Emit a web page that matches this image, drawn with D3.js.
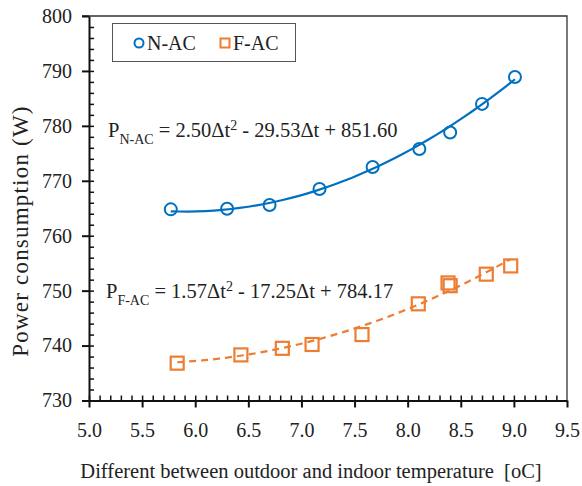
<!DOCTYPE html>
<html>
<head>
<meta charset="utf-8">
<script src="https://cdn.jsdelivr.net/npm/d3@7"></script>
<style>
  body { margin: 0; background: #fff; }
  svg text { font-family: "Liberation Serif", "Times New Roman", serif !important; fill: #222; }
</style>
</head>
<body>
<div id="chart"></div>
<script>
// data
var nacX = [5.77, 6.30, 6.70, 7.17, 7.67, 8.11, 8.40, 8.70, 9.01];
var nacY = [764.8, 764.9, 765.6, 768.5, 772.5, 775.8, 778.8, 784.0, 788.9];
var facX = [5.83, 6.43, 6.82, 7.10, 7.57, 8.10, 8.38, 8.40, 8.74, 8.97];
var facY = [736.8, 738.3, 739.5, 740.2, 742.0, 747.6, 751.4, 750.9, 753.0, 754.5];
// trendline coefficients (a, b, c) from the equations shown
var nacFit = [2.50, -29.53, 851.60];
var facFit = [1.57, -17.25, 784.17];
var xTicks = [5.0, 5.5, 6.0, 6.5, 7.0, 7.5, 8.0, 8.5, 9.0, 9.5];
var yTicks = [730, 740, 750, 760, 770, 780, 790, 800];

(function drawChart() {
    var w = 582, h = 486;
    var padLeft = 89, padRight = 567, padTop = 16, padBottom = 400.5;
    var blue = "#0070C0", orange = "#ED7D31";
    var serif = "'Liberation Serif', 'Times New Roman', serif";

    var svg = d3.select("#chart").append("svg")
        .attr("width", w)
        .attr("height", h)
        .style("font-family", serif);

    var x = d3.scaleLinear().domain([5.0, 9.5]).range([padLeft, padRight]);
    var y = d3.scaleLinear().domain([730, 800]).range([padBottom, padTop]);

    // frame (top / right)
    svg.append("path")
        .attr("d", `M${padLeft - 7},${padTop}H${padRight}V${padBottom}`)
        .attr("fill", "none")
        .attr("stroke", "#333")
        .attr("stroke-width", 1.3);

    // minor ticks inside
    var xMinor = d3.range(50, 95).map(d => d / 10);
    var yMinor = d3.range(730, 800, 2);
    svg.append("g")
        .attr("transform", `translate(0,${padBottom})`)
        .call(d3.axisTop(x).tickValues(xMinor).tickSize(5).tickFormat(""))
        .call(g => g.select(".domain").remove())
        .selectAll("line").attr("stroke", "#111").attr("stroke-width", 1.5);
    svg.append("g")
        .attr("transform", `translate(${padLeft},0)`)
        .call(d3.axisRight(y).tickValues(yMinor).tickSize(5).tickFormat(""))
        .call(g => g.select(".domain").remove())
        .selectAll("line").attr("stroke", "#111").attr("stroke-width", 1.5);

    // main axes
    var xAxis = svg.append("g")
        .attr("transform", `translate(0,${padBottom})`)
        .call(d3.axisBottom(x).tickValues(xTicks).tickSize(7).tickSizeOuter(0).tickPadding(15)
            .tickFormat(d3.format(".1f")));
    var yAxis = svg.append("g")
        .attr("transform", `translate(${padLeft},0)`)
        .call(d3.axisLeft(y).tickValues(yTicks).tickSize(7).tickSizeOuter(0).tickPadding(10));
    [xAxis, yAxis].forEach(function(g) {
        g.attr("font-family", null);
        g.select(".domain").attr("stroke", "#111").attr("stroke-width", 2);
        g.selectAll(".tick line").attr("stroke", "#111").attr("stroke-width", 2);
        g.selectAll(".tick text")
            .style("font-family", serif)
            .attr("font-size", "20px")
            .attr("fill", "#222");
    });

    // trendlines
    function fitPoints(coef, x0, x1) {
        return d3.range(0, 41).map(function(i) {
            var t = x0 + (x1 - x0) * i / 40;
            return [t, coef[0] * t * t + coef[1] * t + coef[2]];
        });
    }
    var line = d3.line().x(d => x(d[0])).y(d => y(d[1]));

    svg.append("path")
        .datum(fitPoints(nacFit, d3.min(nacX), d3.max(nacX)))
        .attr("d", line)
        .attr("fill", "none")
        .attr("stroke", blue)
        .attr("stroke-width", 2.2);

    svg.append("path")
        .datum(fitPoints(facFit, d3.min(facX), d3.max(facX)))
        .attr("d", line)
        .attr("fill", "none")
        .attr("stroke", orange)
        .attr("stroke-width", 2.2)
        .attr("stroke-dasharray", "7,5");

    // markers
    svg.selectAll("circle.nac")
        .data(nacX.map((d, i) => [d, nacY[i]]))
        .enter()
        .append("circle")
        .attr("class", "nac")
        .attr("cx", d => x(d[0]))
        .attr("cy", d => y(d[1]))
        .attr("r", 6)
        .attr("fill", "none")
        .attr("stroke", blue)
        .attr("stroke-width", 2);

    svg.selectAll("rect.fac")
        .data(facX.map((d, i) => [d, facY[i]]))
        .enter()
        .append("rect")
        .attr("class", "fac")
        .attr("x", d => x(d[0]) - 6.5)
        .attr("y", d => y(d[1]) - 6.5)
        .attr("width", 13)
        .attr("height", 13)
        .attr("fill", "none")
        .attr("stroke", orange)
        .attr("stroke-width", 2.2);

    // equations
    function equation(px, py, sub, a, rest) {
        var t = svg.append("text")
            .attr("x", px)
            .attr("y", py)
            .attr("font-size", "20.5px");
        t.append("tspan").text("P");
        t.append("tspan").attr("font-size", "14px").attr("dy", 7).text(sub);
        t.append("tspan").attr("dy", -7).text(" = " + a + "\u0394t");
        t.append("tspan").attr("font-size", "14px").attr("dy", -7).text("2");
        t.append("tspan").attr("dy", 7).text(rest);
    }
    equation(108, 137, "N-AC", "2.50", " - 29.53\u0394t + 851.60");
    equation(106, 298, "F-AC", "1.57", " - 17.25\u0394t + 784.17");

    // legend
    var lg = svg.append("g");
    lg.append("rect")
        .attr("x", 112.5)
        .attr("y", 23.5)
        .attr("width", 183)
        .attr("height", 38)
        .attr("fill", "#fff")
        .attr("stroke", "#555")
        .attr("stroke-width", 1);
    lg.append("circle")
        .attr("cx", 139)
        .attr("cy", 43)
        .attr("r", 4.5)
        .attr("fill", "none")
        .attr("stroke", blue)
        .attr("stroke-width", 2);
    lg.append("text")
        .attr("x", 147)
        .attr("y", 50)
        .attr("font-size", "20px")
        .text("N-AC");
    lg.append("rect")
        .attr("x", 220.5)
        .attr("y", 38.5)
        .attr("width", 9)
        .attr("height", 9)
        .attr("fill", "none")
        .attr("stroke", orange)
        .attr("stroke-width", 2);
    lg.append("text")
        .attr("x", 233)
        .attr("y", 50)
        .attr("font-size", "20px")
        .text("F-AC");

    // axis titles
    svg.append("text")
        .attr("text-anchor", "middle")
        .attr("x", 311)
        .attr("y", 478)
        .attr("font-size", "20.5px")
        .style("white-space", "pre")
        .text("Different between outdoor and indoor temperature  [oC]");

    svg.append("text")
        .attr("text-anchor", "middle")
        .attr("transform", "rotate(-90)")
        .attr("x", -231)
        .attr("y", 28)
        .attr("font-size", "23px")
        .attr("letter-spacing", "1.2px")
        .text("Power consumption (W)");
})();
</script>
</body>
</html>
